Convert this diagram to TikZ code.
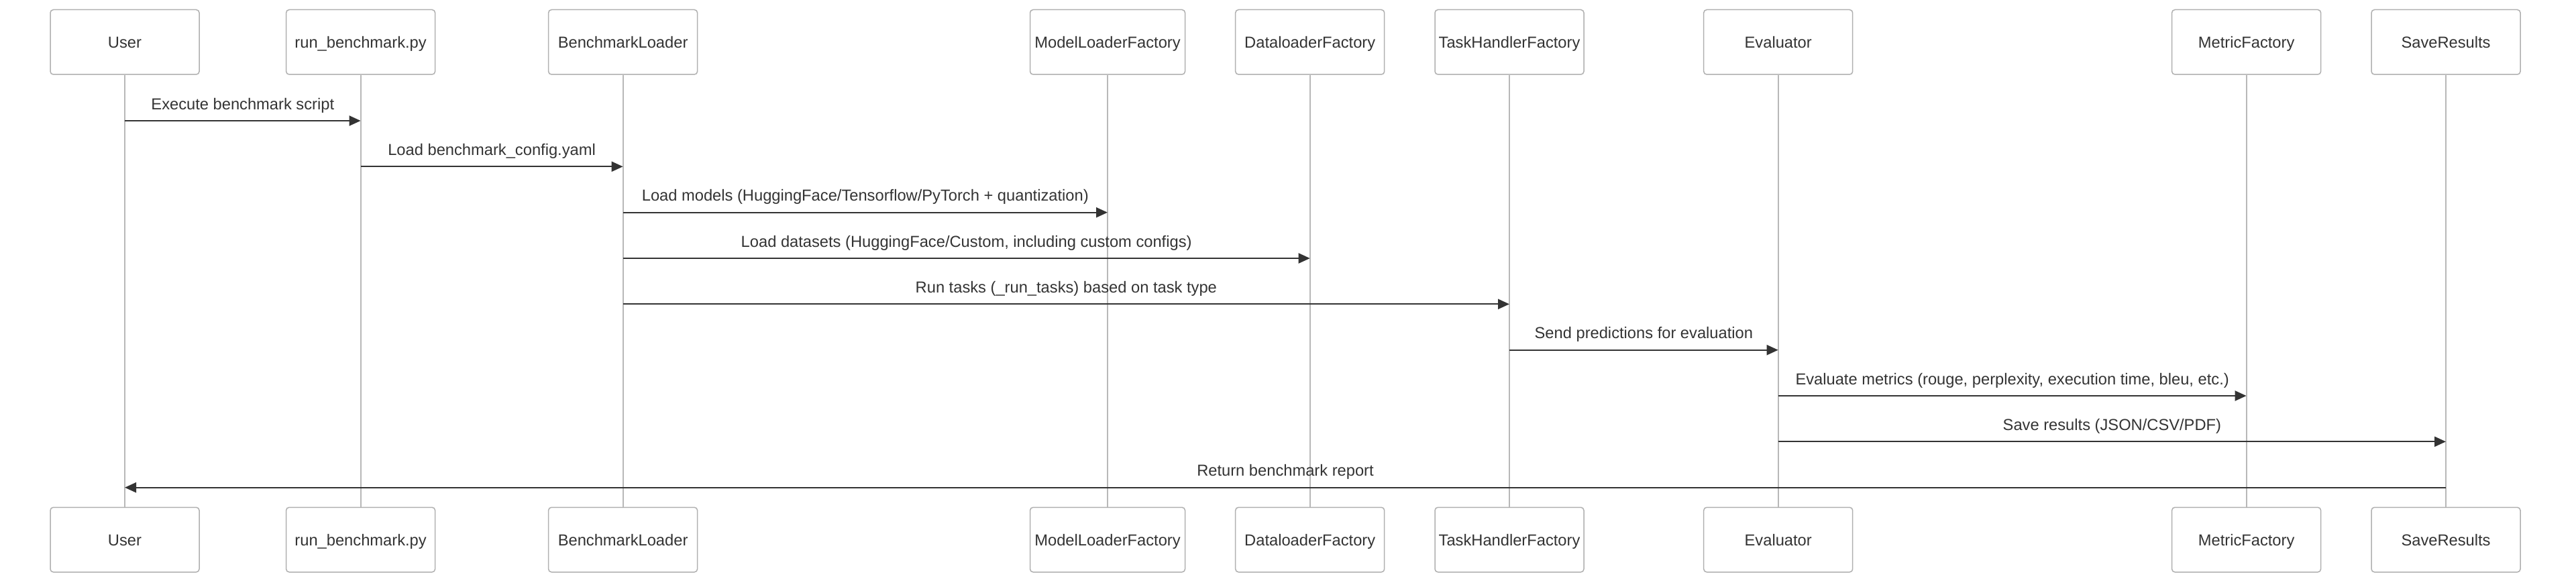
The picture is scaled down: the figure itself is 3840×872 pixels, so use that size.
\documentclass[tikz,border=0pt]{standalone}
\usepackage{fontspec}
\setmainfont{Liberation Sans}
\usetikzlibrary{arrows.meta}
\definecolor{txt}{HTML}{333333}
\definecolor{boxline}{HTML}{B0B0B0}
\definecolor{lifeline}{HTML}{B8B8B8}
\tikzset{
  actor/.style={draw=boxline, fill=white, line width=1.5pt, rounded corners=4.5pt,
    minimum width=222pt, minimum height=96.5pt, inner sep=0pt, text=txt,
    text height=17pt, text depth=0pt,
    font=\fontsize{23.7}{28}\selectfont},
  wideactor/.style={actor, minimum width=231pt},
  life/.style={draw=lifeline, line width=2pt},
  msg/.style={draw=txt, line width=2.2pt, -{Triangle[length=17pt,width=15pt]}},
  lbl/.style={anchor=base, yshift=17pt, text=txt, inner sep=0pt,
    font=\fontsize{23.7}{28}\selectfont},
}
\begin{document}
\begin{tikzpicture}[x=1pt, y={(0pt,-1pt)}]
\useasboundingbox (0,0) rectangle (3840,872);
% participants (top)
\node[actor] (uT) at (186,62.75) {User};
\node[actor] (rT) at (537.6,62.75) {run\_benchmark.py};
\node[actor] (bT) at (928.6,62.75) {BenchmarkLoader};
\node[wideactor] (mT) at (1651,62.75) {ModelLoaderFactory};
\node[actor] (dT) at (1952.7,62.75) {DataloaderFactory};
\node[actor] (tT) at (2250,62.75) {TaskHandlerFactory};
\node[actor] (eT) at (2650.7,62.75) {Evaluator};
\node[actor] (fT) at (3348.6,62.75) {MetricFactory};
\node[actor] (sT) at (3646,62.75) {SaveResults};
% participants (bottom)
\node[actor] (uB) at (186,804.5) {User};
\node[actor] (rB) at (537.6,804.5) {run\_benchmark.py};
\node[actor] (bB) at (928.6,804.5) {BenchmarkLoader};
\node[wideactor] (mB) at (1651,804.5) {ModelLoaderFactory};
\node[actor] (dB) at (1952.7,804.5) {DataloaderFactory};
\node[actor] (tB) at (2250,804.5) {TaskHandlerFactory};
\node[actor] (eB) at (2650.7,804.5) {Evaluator};
\node[actor] (fB) at (3348.6,804.5) {MetricFactory};
\node[actor] (sB) at (3646,804.5) {SaveResults};
% lifelines
\foreach \p in {u,r,b,m,d,t,e,f,s}{
  \draw[life] (\p T.south) -- (\p B.north);
}
% messages
\draw[msg] (uT |- 0,180) -- node[lbl]{Execute benchmark script} (rT |- 0,180);
\draw[msg] (rT |- 0,248.3) -- node[lbl]{Load benchmark\_config.yaml} (bT |- 0,248.3);
\draw[msg] (bT |- 0,316.7) -- node[lbl]{Load models (HuggingFace/Tensorflow/PyTorch + quantization)} (mT |- 0,316.7);
\draw[msg] (bT |- 0,385) -- node[lbl]{Load datasets (HuggingFace/Custom, including custom configs)} (dT |- 0,385);
\draw[msg] (bT |- 0,453.3) -- node[lbl]{Run tasks (\_run\_tasks) based on task type} (tT |- 0,453.3);
\draw[msg] (tT |- 0,521.7) -- node[lbl]{Send predictions for evaluation} (eT |- 0,521.7);
\draw[msg] (eT |- 0,590) -- node[lbl]{Evaluate metrics (rouge, perplexity, execution time, bleu, etc.)} (fT |- 0,590);
\draw[msg] (eT |- 0,658.3) -- node[lbl]{Save results (JSON/CSV/PDF)} (sT |- 0,658.3);
\draw[msg] (sT |- 0,726.7) -- node[lbl]{Return benchmark report} (uT |- 0,726.7);
\end{tikzpicture}
\end{document}
